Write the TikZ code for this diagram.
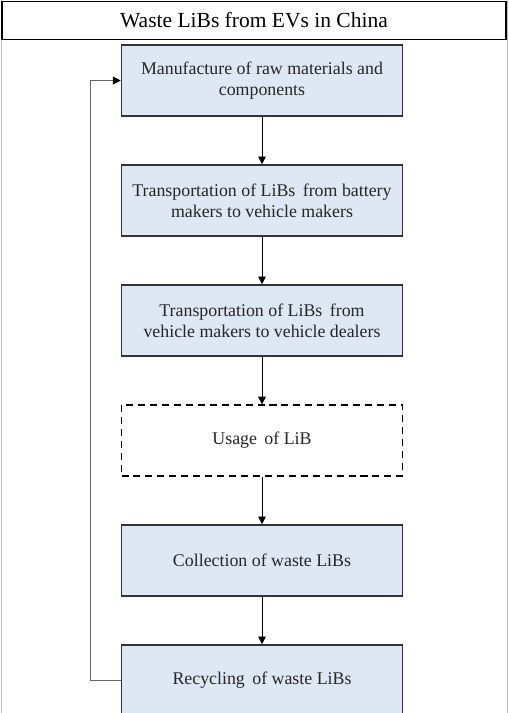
\documentclass[tikz,border=0pt]{standalone}
\usepackage{fontspec}
\setmainfont{Liberation Serif}
\usetikzlibrary{positioning,arrows.meta}
\definecolor{stagefill}{HTML}{DEE8F4}
\begin{document}
\begin{tikzpicture}[node distance=3cm, >={Triangle[length=5.5pt,width=5.5pt]}, font=\fontsize{12.7}{14.8}\selectfont,
    stage/.style={draw=black!80, line width=1.1pt, fill=stagefill, minimum width=7.025cm, minimum height=1.775cm, align=center, text=black!85},
    usage/.style={stage, fill=white, draw=black, dashed, dash pattern=on 5pt off 3.5pt, line width=0.9pt}]
    \useasboundingbox (0,0) rectangle (12.725,-17.825);
    % page frame
    \draw[black!25] (0.02,0) -- (0.02,-17.825) (12.69,0) -- (12.69,-17.825);
    \node (title) [draw, line width=1.4pt, minimum width=12.62cm, minimum height=0.95cm, font=\fontsize{15.3}{18}\selectfont] at (6.35,-0.5125) {Waste LiBs from EVs in China};
    \node (manuf) [stage] at (6.55,-2.0125) {Manufacture of raw materials and\\components};
    \node (bat2veh) [stage, below of=manuf] {Transportation of LiBs\, from battery\\makers to vehicle makers};
    \node (veh2deal) [stage, below of=bat2veh] {Transportation of LiBs\, from\\vehicle makers to vehicle dealers};
    \node (usage) [usage, below of=veh2deal] {Usage\, of LiB};
    \node (collect) [stage, below of=usage] {Collection of waste LiBs};
    \node (recycle) [stage, below of=collect] {Recycling\, of waste LiBs};
    \draw[->, line width=0.7pt] (manuf) -- (bat2veh);
    \draw[->, line width=0.7pt] (bat2veh) -- (veh2deal);
    \draw[->, line width=0.7pt] (veh2deal) -- (usage);
    \draw[->, line width=0.7pt] (usage) -- (collect);
    \draw[->, line width=0.7pt] (collect) -- (recycle);
    % loop back to the start
    \draw[-{Triangle[length=5.5pt,width=5.5pt,color=black]}, line width=0.7pt, draw=black!60] (recycle.west) -- ++(-0.75,0) |- (manuf.west);
\end{tikzpicture}
\end{document}
